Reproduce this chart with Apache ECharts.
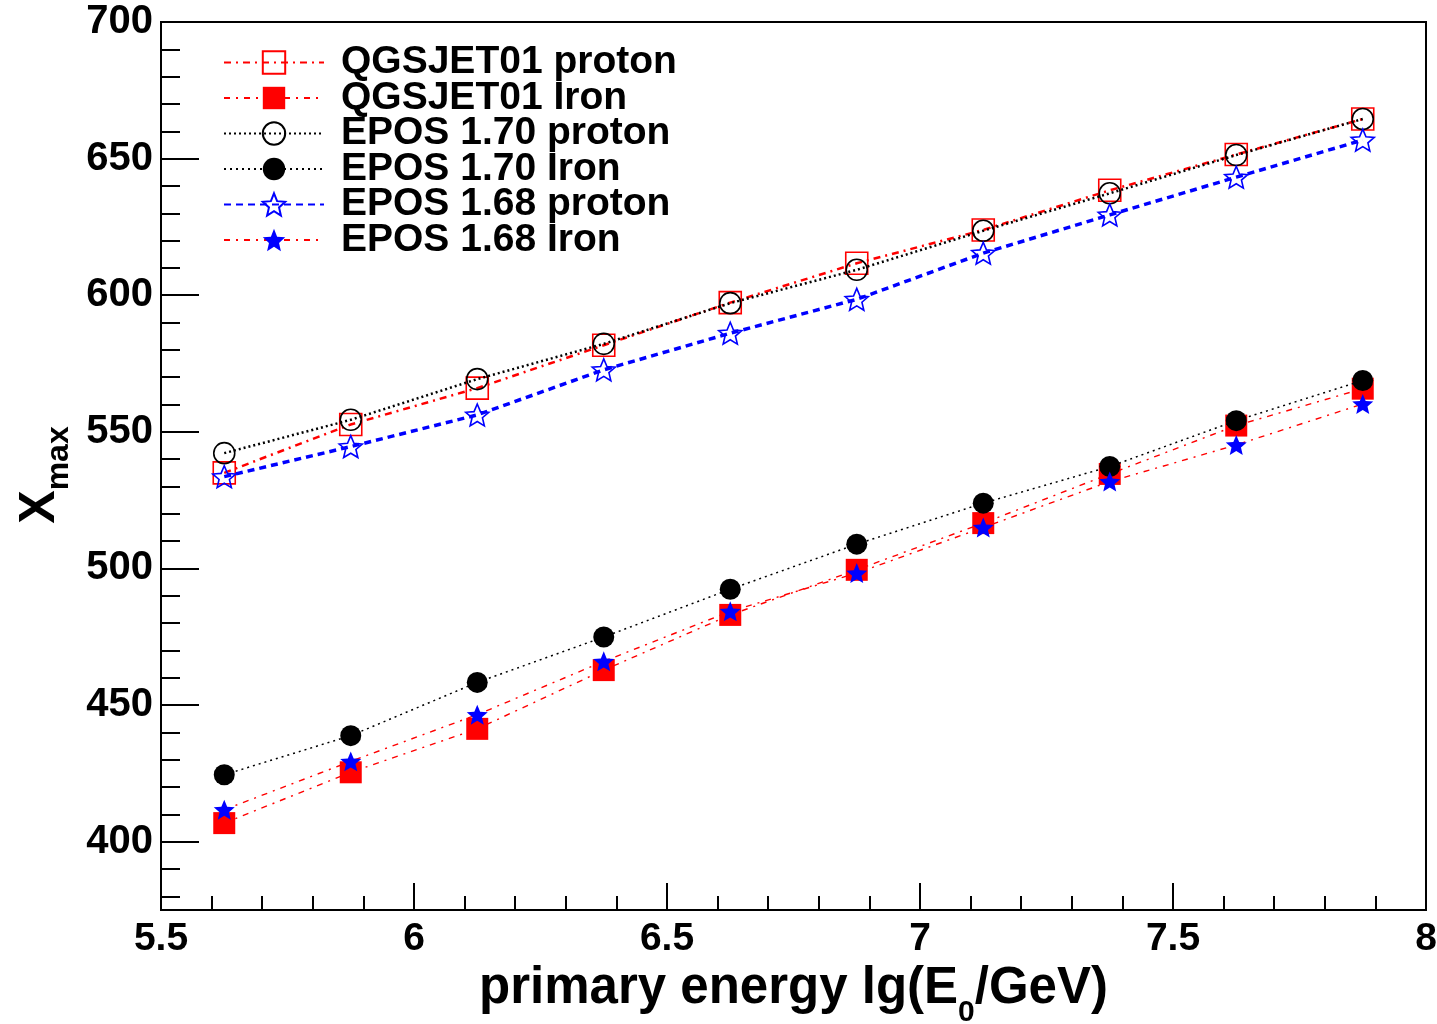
<!DOCTYPE html>
<html>
<head>
<meta charset="utf-8">
<title>Xmax vs primary energy</title>
<script src="https://cdn.jsdelivr.net/npm/echarts@6/dist/echarts.min.js"></script>
<style>
  html, body { margin: 0; padding: 0; background: #fff; }
  #chart { width: 1437px; height: 1024px; }
</style>
</head>
<body>
<div id="chart"></div>
<script>
// lg(E0/GeV) bin centres
const energy = [5.625, 5.875, 6.125, 6.375, 6.625, 6.875, 7.125, 7.375, 7.625, 7.875];

// mean Xmax per model / primary
const qgsjetProton = [535.0, 552.7, 566.0, 581.7, 597.3, 611.7, 623.9, 638.4, 651.5, 664.5];
const qgsjetIron   = [406.8, 425.4, 441.3, 462.8, 483.0, 499.5, 516.6, 534.6, 552.3, 565.8];
const epos170Proton = [542.2, 554.4, 569.3, 582.2, 597.1, 609.3, 623.6, 637.3, 651.3, 664.5];
const epos170Iron   = [424.5, 438.8, 458.3, 474.9, 492.4, 508.9, 523.9, 537.3, 554.1, 568.8];
const epos168Proton = [533.6, 544.6, 556.2, 572.7, 586.1, 598.5, 615.4, 629.4, 643.2, 656.8];
const epos168Iron   = [411.7, 429.4, 446.5, 466.0, 484.3, 498.3, 515.0, 531.8, 545.2, 560.2];

const seriesNames = [
  'QGSJET01 proton', 'QGSJET01 Iron',
  'EPOS 1.70 proton', 'EPOS 1.70 Iron',
  'EPOS 1.68 proton', 'EPOS 1.68 Iron'
];

// axis ticks
const yMajorTicks = [400, 450, 500, 550, 600, 650, 700];
const yMinorTicks = [];
for (let v = 380; v < 700; v += 10) if (v % 50 !== 0) yMinorTicks.push(v);

const RED = '#ff0000', BLUE = '#0000ff', BLACK = '#000000';
const STAR = 'path://M50,0 L63.23,31.8 L97.55,34.55 L71.4,56.95 L79.39,90.45 L50,72.5 L20.61,90.45 L28.6,56.95 L2.45,34.55 L36.77,31.8 Z';
const FONT = '"Liberation Sans", Arial, Helvetica, sans-serif';

const pairs = arr => energy.map((e, i) => [e, arr[i]]);

function makeSeries(name, values, opt) {
  return {
    name: name,
    type: 'line',
    data: pairs(values),
    symbol: opt.symbol,
    symbolSize: opt.size,
    symbolKeepAspect: true,
    showAllSymbol: true,
    lineStyle: { color: opt.lineColor, width: opt.lineWidth, type: opt.dash },
    itemStyle: opt.hollow
      ? { color: 'rgba(255,255,255,0)', borderColor: opt.markerColor, borderWidth: 1.6 }
      : { color: opt.markerColor, borderColor: opt.markerColor, borderWidth: 0 },
    emphasis: { disabled: true },
    z: opt.z
  };
}

const series = [
  makeSeries(seriesNames[0], qgsjetProton, {
    symbol: 'rect', size: 22, hollow: true, markerColor: RED,
    lineColor: RED, lineWidth: 2.5, dash: [7, 5, 2, 5], z: 2 }),
  makeSeries(seriesNames[1], qgsjetIron, {
    symbol: 'rect', size: 22, hollow: false, markerColor: RED,
    lineColor: RED, lineWidth: 1.4, dash: [6, 6, 2, 6], z: 3 }),
  makeSeries(seriesNames[2], epos170Proton, {
    symbol: 'circle', size: 21, hollow: true, markerColor: BLACK,
    lineColor: BLACK, lineWidth: 2.5, dash: [2, 3], z: 4 }),
  makeSeries(seriesNames[3], epos170Iron, {
    symbol: 'circle', size: 21, hollow: false, markerColor: BLACK,
    lineColor: BLACK, lineWidth: 1.5, dash: [2, 4], z: 5 }),
  makeSeries(seriesNames[4], epos168Proton, {
    symbol: STAR, size: 23, hollow: true, markerColor: BLUE,
    lineColor: BLUE, lineWidth: 3.5, dash: [7, 5], z: 6 }),
  makeSeries(seriesNames[5], epos168Iron, {
    symbol: STAR, size: 21, hollow: false, markerColor: BLUE,
    lineColor: RED, lineWidth: 1.4, dash: [6, 6, 2, 6], z: 7 })
];

const chart = echarts.init(document.getElementById('chart'), null, { renderer: 'canvas' });

chart.setOption({
  animation: false,
  backgroundColor: '#ffffff',
  textStyle: { fontFamily: FONT },
  grid: {
    left: 161, top: 22, right: 11, bottom: 114,
    outerBoundsMode: 'none',
    containLabel: false,
    show: true, borderColor: BLACK, borderWidth: 2, backgroundColor: 'transparent'
  },
  legend: {
    orient: 'vertical',
    left: 218, top: 38,
    itemWidth: 100, itemHeight: 28, itemGap: -3.5,
    selectedMode: false,
    data: seriesNames,
    textStyle: {
      fontFamily: FONT, fontWeight: 'bold', fontSize: 39, color: BLACK,
      padding: [0, 0, 0, 12]
    }
  },
  xAxis: {
    type: 'value',
    min: 5.5, max: 8, interval: 0.5,
    name: '{m|primary energy lg(E}{s|0}{m|/GeV)}',
    nameLocation: 'middle',
    nameGap: 48,
    nameTextStyle: {
      rich: {
        m: { fontFamily: FONT, fontWeight: 'bold', fontSize: 51, color: BLACK, lineHeight: 50, verticalAlign: 'top' },
        s: { fontFamily: FONT, fontWeight: 'bold', fontSize: 30, color: BLACK, lineHeight: 30, verticalAlign: 'top', padding: [34, 0, 0, 0] }
      }
    },
    axisLine: { show: true, lineStyle: { color: BLACK, width: 2 } },
    axisTick: { show: true, inside: true, length: 27, lineStyle: { color: BLACK, width: 2 } },
    minorTick: { show: true, splitNumber: 5, length: 14, lineStyle: { color: BLACK, width: 2 } },
    axisLabel: {
      margin: 10, color: BLACK, fontFamily: FONT, fontWeight: 'bold', fontSize: 39,
      showMinLabel: true, showMaxLabel: true
    },
    splitLine: { show: false }
  },
  yAxis: [
    {
      type: 'value',
      min: 375, max: 700,
      name: '{b|X}{s|max}',
      nameLocation: 'middle',
      nameRotate: 90,
      nameGap: 92,
      nameTextStyle: {
        rich: {
          b: { fontFamily: FONT, fontWeight: 'bold', fontSize: 50, color: BLACK, lineHeight: 50, verticalAlign: 'top' },
          s: { fontFamily: FONT, fontWeight: 'bold', fontSize: 32, color: BLACK, lineHeight: 32, verticalAlign: 'top', padding: [28, 18, 0, 0] }
        }
      },
      axisLine: { show: true, lineStyle: { color: BLACK, width: 2 } },
      axisTick: { show: true, inside: true, length: 38, customValues: yMajorTicks, lineStyle: { color: BLACK, width: 2 } },
      axisLabel: {
        customValues: yMajorTicks,
        margin: 8, color: BLACK, fontFamily: FONT, fontWeight: 'bold', fontSize: 40
      },
      splitLine: { show: false }
    },
    {
      type: 'value',
      min: 375, max: 700,
      position: 'left',
      axisLine: { show: false },
      axisTick: { show: true, inside: true, length: 19, customValues: yMinorTicks, lineStyle: { color: BLACK, width: 2 } },
      axisLabel: { show: false },
      splitLine: { show: false }
    }
  ],
  series: series
});
</script>
</body>
</html>
